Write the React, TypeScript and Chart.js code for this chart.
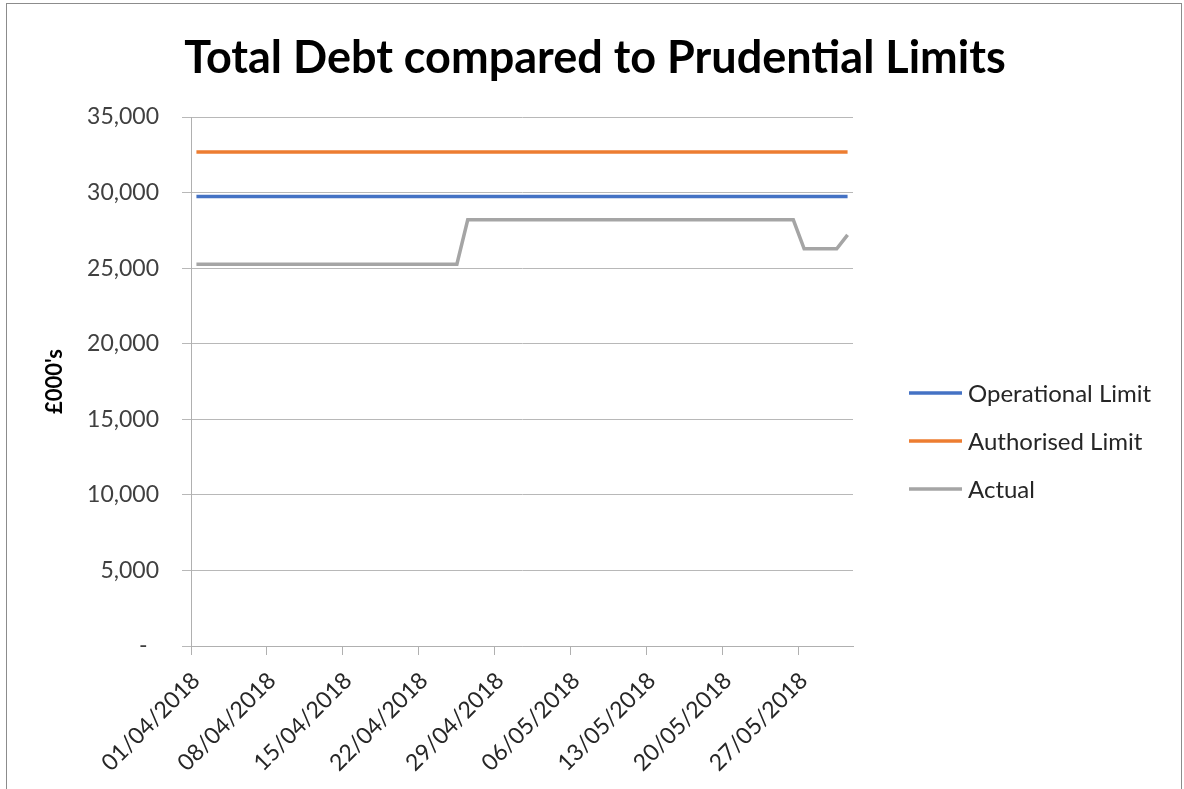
import React, { useEffect, useRef } from "react";
import { Chart, registerables } from "chart.js";

Chart.register(...registerables);

const TITLE = "Total Debt compared to Prudential Limits";
const Y_TITLE = "£000's";

const dates = [
  "01/04/2018", "02/04/2018", "03/04/2018", "04/04/2018", "05/04/2018", "06/04/2018", "07/04/2018", "08/04/2018", "09/04/2018", "10/04/2018",
  "11/04/2018", "12/04/2018", "13/04/2018", "14/04/2018", "15/04/2018", "16/04/2018", "17/04/2018", "18/04/2018", "19/04/2018", "20/04/2018",
  "21/04/2018", "22/04/2018", "23/04/2018", "24/04/2018", "25/04/2018", "26/04/2018", "27/04/2018", "28/04/2018", "29/04/2018", "30/04/2018",
  "01/05/2018", "02/05/2018", "03/05/2018", "04/05/2018", "05/05/2018", "06/05/2018", "07/05/2018", "08/05/2018", "09/05/2018", "10/05/2018",
  "11/05/2018", "12/05/2018", "13/05/2018", "14/05/2018", "15/05/2018", "16/05/2018", "17/05/2018", "18/05/2018", "19/05/2018", "20/05/2018",
  "21/05/2018", "22/05/2018", "23/05/2018", "24/05/2018", "25/05/2018", "26/05/2018", "27/05/2018", "28/05/2018", "29/05/2018", "30/05/2018",
  "31/05/2018",
];

const tickDates = [
  "01/04/2018", "08/04/2018", "15/04/2018", "22/04/2018", "29/04/2018",
  "06/05/2018", "13/05/2018", "20/05/2018", "27/05/2018",
];

const yTicks = [0, 5000, 10000, 15000, 20000, 25000, 30000, 35000];

const operationalLimit = [
  29740, 29740, 29740, 29740, 29740, 29740, 29740, 29740, 29740, 29740,
  29740, 29740, 29740, 29740, 29740, 29740, 29740, 29740, 29740, 29740,
  29740, 29740, 29740, 29740, 29740, 29740, 29740, 29740, 29740, 29740,
  29740, 29740, 29740, 29740, 29740, 29740, 29740, 29740, 29740, 29740,
  29740, 29740, 29740, 29740, 29740, 29740, 29740, 29740, 29740, 29740,
  29740, 29740, 29740, 29740, 29740, 29740, 29740, 29740, 29740, 29740,
  29740,
];

const authorisedLimit = [
  32690, 32690, 32690, 32690, 32690, 32690, 32690, 32690, 32690, 32690,
  32690, 32690, 32690, 32690, 32690, 32690, 32690, 32690, 32690, 32690,
  32690, 32690, 32690, 32690, 32690, 32690, 32690, 32690, 32690, 32690,
  32690, 32690, 32690, 32690, 32690, 32690, 32690, 32690, 32690, 32690,
  32690, 32690, 32690, 32690, 32690, 32690, 32690, 32690, 32690, 32690,
  32690, 32690, 32690, 32690, 32690, 32690, 32690, 32690, 32690, 32690,
  32690,
];

const actual = [
  25260, 25260, 25260, 25260, 25260, 25260, 25260, 25260, 25260, 25260,
  25260, 25260, 25260, 25260, 25260, 25260, 25260, 25260, 25260, 25260,
  25260, 25260, 25260, 25260, 25260, 28200, 28200, 28200, 28200, 28200,
  28200, 28200, 28200, 28200, 28200, 28200, 28200, 28200, 28200, 28200,
  28200, 28200, 28200, 28200, 28200, 28200, 28200, 28200, 28200, 28200,
  28200, 28200, 28200, 28200, 28200, 28200, 26280, 26280, 26280, 26280,
  27200,
];

const FONT = "Lato";

const titleLegendPlugin = {
  id: "titleLegend",
  afterDraw(chart: any) {
    const ctx = chart.ctx;
    ctx.save();
    // title
    ctx.font = `bold 45px ${FONT}`;
    ctx.fillStyle = "#000000";
    ctx.textAlign = "center";
    ctx.textBaseline = "alphabetic";
    ctx.fillText(TITLE, 595, 73);
    // legend
    ctx.font = `24px ${FONT}`;
    ctx.textAlign = "left";
    ctx.textBaseline = "middle";
    chart.data.datasets.forEach((ds: any, i: number) => {
      const y = 393 + i * 48;
      ctx.strokeStyle = ds.borderColor;
      ctx.lineWidth = 3.5;
      ctx.beginPath();
      ctx.moveTo(909, y);
      ctx.lineTo(962, y);
      ctx.stroke();
      ctx.fillStyle = "#262626";
      ctx.fillText(ds.label, 968, y + 1);
    });
    ctx.restore();
  },
};

export default function App() {
  const ref = useRef<HTMLCanvasElement>(null);

  useEffect(() => {
    const canvas = ref.current;
    if (!canvas) return;
    const pts = (arr: number[]) => arr.map((y, i) => ({ x: i, y }));
    const chart = new Chart(canvas, {
      type: "line",
      data: {
        datasets: [
          {
            label: "Operational Limit",
            data: pts(operationalLimit),
            borderColor: "#4472C4",
            backgroundColor: "#4472C4",
            borderWidth: 3.5,
            pointRadius: 0,
          },
          {
            label: "Authorised Limit",
            data: pts(authorisedLimit),
            borderColor: "#ED7D31",
            backgroundColor: "#ED7D31",
            borderWidth: 3.5,
            pointRadius: 0,
          },
          {
            label: "Actual",
            data: pts(actual),
            borderColor: "#A5A5A5",
            backgroundColor: "#A5A5A5",
            borderWidth: 3.5,
            pointRadius: 0,
          },
        ],
      },
      options: {
        responsive: false,
        animation: false,
        events: [],
        layout: { padding: { top: 117, left: 38, right: 331, bottom: 0 } },
        plugins: {
          legend: { display: false },
          tooltip: { enabled: false },
          title: { display: false },
        },
        scales: {
          x: {
            type: "linear",
            min: -0.5,
            max: dates.length - 0.5,
            afterBuildTicks: (s: any) => {
              s.ticks = tickDates.map((d) => ({ value: dates.indexOf(d) - 0.5 }));
            },
            afterFit: (s: any) => {
              s.height = 143;
            },
            grid: { drawOnChartArea: false, drawTicks: true, tickLength: 9, color: "#b0b0b0" },
            border: { display: true, color: "#b0b0b0", width: 1 },
            ticks: {
              autoSkip: false,
              minRotation: 45,
              maxRotation: 45,
              padding: 12,
              labelOffset: 5,
              color: "#262626",
              font: { family: FONT, size: 23 },
              callback: (v: any) => dates[Math.round(Number(v) + 0.5)] ?? "",
            },
          },
          y: {
            type: "linear",
            min: 0,
            max: 35000,
            afterBuildTicks: (s: any) => {
              s.ticks = yTicks.map((v) => ({ value: v }));
            },
            afterFit: (s: any) => {
              s.width = 153;
            },
            grid: { color: "#b8b8b8", drawTicks: true, tickLength: 9 },
            border: { display: true, color: "#b0b0b0", width: 1 },
            ticks: {
              padding: 23,
              color: "#404040",
              font: { family: FONT, size: 23 },
              callback: (v: any) => (Number(v) === 0 ? "-\u2002" : Number(v).toLocaleString("en-GB")),
            },
            title: {
              display: true,
              text: Y_TITLE,
              color: "#000000",
              font: { family: FONT, size: 22, weight: "bold" },
              padding: { top: 4, bottom: 0 },
            },
          },
        },
      },
      plugins: [titleLegendPlugin],
    } as any);
    return () => chart.destroy();
  }, []);

  return (
    <div
      style={{
        position: "fixed",
        left: 0,
        top: 0,
        width: 1184,
        height: 789,
        overflow: "hidden",
        background: "#ffffff",
      }}
    >
      <div
        style={{
          position: "absolute",
          left: 6,
          top: 3,
          width: 1176,
          height: 786,
          boxSizing: "border-box",
          border: "1px solid #8c8c8c",
          borderBottom: "none",
        }}
      />
      <canvas
        ref={ref}
        width={1184}
        height={789}
        style={{ position: "absolute", left: 0, top: 0, width: 1184, height: 789 }}
      />
    </div>
  );
}
